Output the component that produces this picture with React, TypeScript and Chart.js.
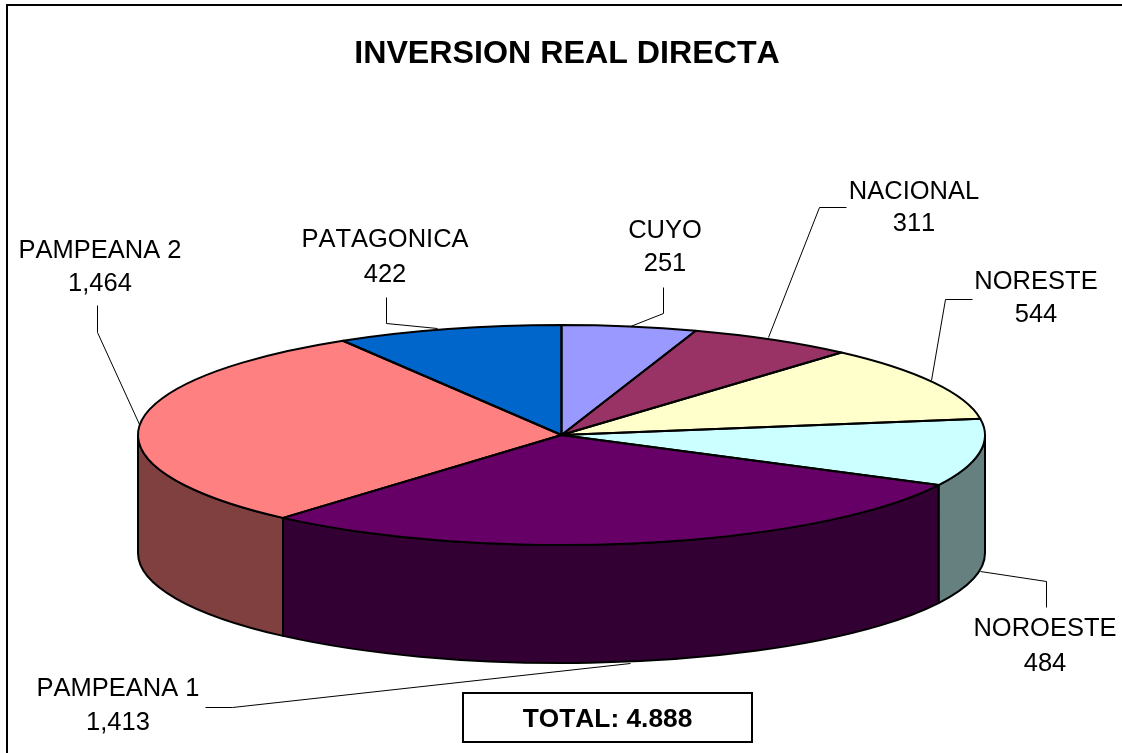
import React, { useEffect, useRef } from "react";
import { Chart, registerables } from "chart.js";

Chart.register(...registerables);

const regions = ["CUYO", "NACIONAL", "NORESTE", "NOROESTE", "PAMPEANA 1", "PAMPEANA 2", "PATAGONICA"];
const amounts = [251, 311, 544, 484, 1413, 1464, 422];
const topColors = ["#9999FF", "#993366", "#FFFFCC", "#CCFFFF", "#660066", "#FF8080", "#0066CC"];
const sideColors = ["#4D4D80", "#4D1A33", "#808066", "#668080", "#330033", "#804040", "#003366"];
const chartTitle = "INVERSION REAL DIRECTA";
const totalText = "TOTAL: 4.888";

// Annotation layout: [label centre x, first-line y, second-line y]
const labelSpots: number[][] = [
  [665, 231, 264],
  [914, 192, 224],
  [1036, 282, 315],
  [1045, 629, 664],
  [118, 689, 723],
  [100, 251, 284],
  [385, 240, 275],
];
// Leader lines, one polyline per region
const leaders: number[][][] = [
  [[663, 287], [663, 313], [630, 326]],
  [[846, 207], [819, 207], [768, 337]],
  [[972, 299], [945, 299], [931, 380]],
  [[1046, 607], [1046, 581], [980, 571]],
  [[205, 707], [232, 707], [630, 663]],
  [[97, 305], [97, 332], [139, 424]],
  [[386, 297], [386, 323], [437, 328]],
];
const view = { cx: 561.5, cy: 435, rx: 423.5, ry: 110, depth: 118 };
const totalBox = { x: 463, y: 693, w: 289, h: 49 };
const FONT = '"Liberation Sans", Arial, sans-serif';

const pie3d = {
  id: "pie3d",
  beforeDraw(chart: any) {
    (chart.ctx as any).fontKerning = "none";
  },
  beforeDatasetsDraw(chart: any) {
    const ctx: CanvasRenderingContext2D = chart.ctx;
    const arcs = chart.getDatasetMeta(0).data;
    const { cx, cy, rx, ry, depth } = view;
    ctx.save();
    ctx.lineJoin = "round";
    ctx.strokeStyle = "#000";
    ctx.lineWidth = 2;

    // Outer wall
    arcs.forEach((arc: any, i: number) => {
      const { startAngle, endAngle } = arc.getProps(["startAngle", "endAngle"], true);
      const a0 = Math.max(startAngle, 0);
      const a1 = Math.min(endAngle, Math.PI);
      if (a1 <= a0) return;
      ctx.beginPath();
      ctx.ellipse(cx, cy, rx, ry, 0, a0, a1);
      ctx.ellipse(cx, cy + depth, rx, ry, 0, a1, a0, true);
      ctx.closePath();
      ctx.fillStyle = sideColors[i];
      ctx.fill();
      ctx.stroke();
    });

    // Top face: the library's arcs, flattened
    arcs.forEach((arc: any) => {
      const { x, y, outerRadius } = arc.getProps(["x", "y", "outerRadius"], true);
      ctx.save();
      ctx.translate(cx, cy);
      ctx.scale(rx / outerRadius, ry / outerRadius);
      ctx.translate(-x, -y);
      arc.draw(ctx);
      ctx.restore();
    });
    arcs.forEach((arc: any) => {
      const { startAngle, endAngle } = arc.getProps(["startAngle", "endAngle"], true);
      ctx.beginPath();
      ctx.moveTo(cx, cy);
      ctx.ellipse(cx, cy, rx, ry, 0, startAngle, endAngle);
      ctx.closePath();
      ctx.stroke();
    });
    ctx.restore();
    return false;
  },
  afterDraw(chart: any) {
    const ctx: CanvasRenderingContext2D = chart.ctx;
    ctx.save();
    // Frame
    ctx.strokeStyle = "#000";
    ctx.lineWidth = 2;
    ctx.beginPath();
    ctx.moveTo(7, 753);
    ctx.lineTo(7, 5);
    ctx.lineTo(1122, 5);
    ctx.stroke();

    // Leaders
    ctx.lineWidth = 1;
    leaders.forEach((pts) => {
      ctx.beginPath();
      pts.forEach(([x, y], k) => (k ? ctx.lineTo(x + 0.5, y + 0.5) : ctx.moveTo(x + 0.5, y + 0.5)));
      ctx.stroke();
    });

    // Labels
    ctx.fillStyle = "#000";
    ctx.textAlign = "center";
    ctx.textBaseline = "middle";
    ctx.font = `25.5px ${FONT}`;
    regions.forEach((name, i) => {
      const [x, y1, y2] = labelSpots[i];
      ctx.fillText(name, x, y1);
      ctx.fillText(amounts[i].toLocaleString("en-US"), x, y2);
    });

    // Total box
    ctx.fillStyle = "#fff";
    ctx.lineWidth = 2;
    ctx.fillRect(totalBox.x, totalBox.y, totalBox.w, totalBox.h);
    ctx.strokeRect(totalBox.x, totalBox.y, totalBox.w, totalBox.h);
    ctx.fillStyle = "#000";
    ctx.font = `bold 26.3px ${FONT}`;
    ctx.fillText(totalText, totalBox.x + totalBox.w / 2, totalBox.y + totalBox.h / 2 + 2);
    ctx.restore();
  },
};

export default function App() {
  const ref = useRef<HTMLCanvasElement>(null);
  useEffect(() => {
    const chart = new Chart(ref.current as HTMLCanvasElement, {
      type: "pie",
      data: {
        labels: regions,
        datasets: [{ data: amounts, backgroundColor: topColors, borderWidth: 0 }],
      },
      options: {
        responsive: false,
        animation: false,
        layout: { padding: { left: 12 } },
        plugins: {
          legend: { display: false },
          tooltip: { enabled: false },
          title: {
            display: true,
            text: chartTitle,
            fullSize: false,
            color: "#000",
            font: { family: FONT, size: 32.2, weight: "bold" },
            padding: { top: 35, bottom: 10 },
          },
        },
      },
      plugins: [pie3d],
    } as any);
    return () => chart.destroy();
  }, []);
  return (
    <canvas
      ref={ref}
      width={1122}
      height={753}
      style={{ position: "absolute", left: 0, top: 0, display: "block", background: "#fff" }}
    />
  );
}
